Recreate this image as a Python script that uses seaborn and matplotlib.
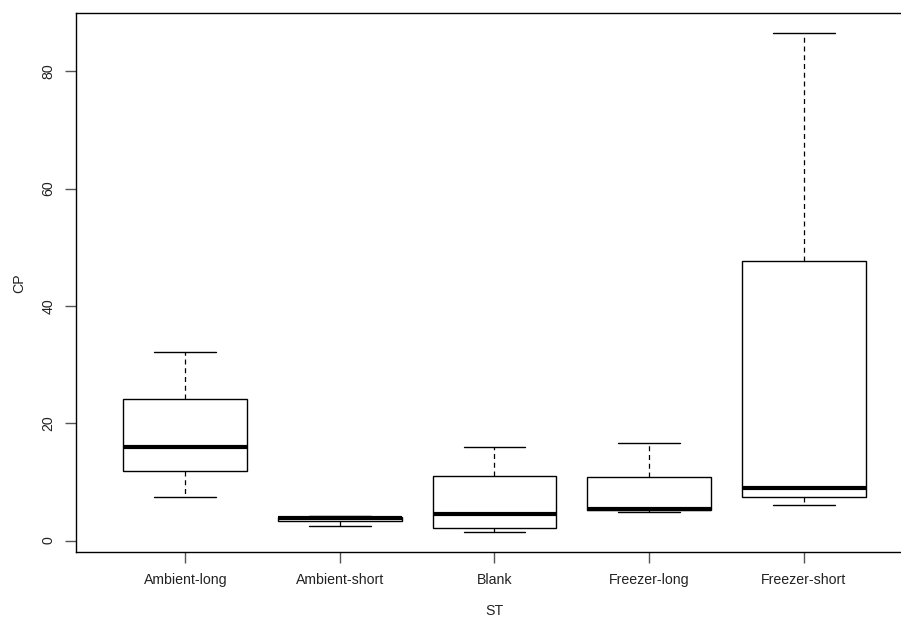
import numpy as np
import pandas as pd
import matplotlib
matplotlib.use("Agg")
import matplotlib.pyplot as plt
import seaborn as sns

# Categories and five-number summaries (min, Q1, median, Q3, max)
categories = ["Ambient-long", "Ambient-short", "Blank", "Freezer-long", "Freezer-short"]
ambient_long = [7.5, 11.8, 16.0, 24.1, 32.2]
ambient_short = [2.5, 3.3, 3.8, 4.1, 4.2]
blank = [1.5, 2.2, 4.5, 11.0, 16.0]
freezer_long = [4.9, 5.2, 5.3, 10.8, 16.6]
freezer_short = [6.1, 7.5, 8.9, 47.6, 86.5]
y_ticks = [0, 20, 40, 60, 80]

series = [ambient_long, ambient_short, blank, freezer_long, freezer_short]
df = pd.DataFrame({
    "ST": np.repeat(categories, [len(s) for s in series]),
    "CP": np.concatenate(series),
})

sns.set_style("white")
plt.rcParams["font.family"] = ["Liberation Sans", "DejaVu Sans"]

fig = plt.figure(figsize=(9.01, 6.19), dpi=100)
# plot region extends slightly past the right edge of the image (as in the reference crop)
ax = fig.add_axes([76 / 901, (619 - 552.3) / 619, 837 / 901, 539 / 619])

sns.boxplot(
    data=df, x="ST", y="CP", order=categories, ax=ax,
    whis=(0, 100), width=0.8, color="white", linecolor="black", linewidth=1.0,
    showfliers=False,
    boxprops=dict(facecolor="white", edgecolor="black", linewidth=1.0),
    medianprops=dict(color="black", linewidth=3.0),
    whiskerprops=dict(color="black", linewidth=0.9, linestyle=(0, (4, 3))),
    capprops=dict(color="black", linewidth=1.0),
    capwidths=0.4,
)

ax.set_xlim(-0.707, 4.707)
ax.set_ylim(-2.0, 89.9)
ax.set_yticks(y_ticks)
ax.set_yticklabels([str(t) for t in y_ticks], rotation=90, va="center")
for sp in ax.spines.values():
    sp.set_visible(True)
    sp.set_color("black")
    sp.set_linewidth(1.0)

ax.tick_params(axis="both", which="both", direction="out", length=8, width=1.0,
               color="#555555", labelsize=10.2, labelcolor="#222222", pad=7,
               bottom=True, left=True)
ax.set_xlabel("ST", fontsize=10.2, color="#222222", labelpad=12)
ax.set_ylabel("CP", fontsize=10.2, color="#222222", labelpad=11)

fig.savefig("out.png", dpi=100)
